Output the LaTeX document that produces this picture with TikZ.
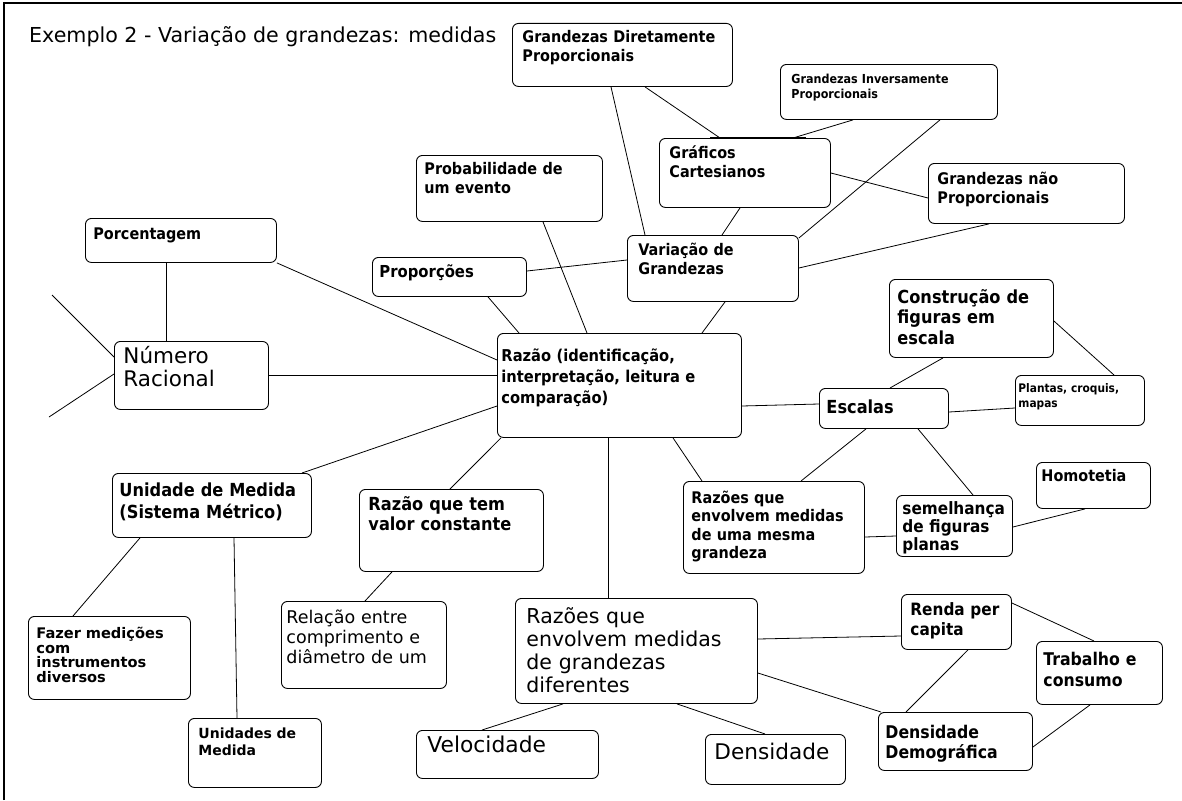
\documentclass[tikz,border=0pt]{standalone}
\usepackage{fontspec}
\setmainfont{DejaVu Sans Condensed}
\newfontfamily\widefont{DejaVu Sans}
\usepackage{tikz}
\usetikzlibrary{positioning}

\tikzset{
  box/.style={draw, line width=0.9pt, rounded corners=6pt, anchor=north west, align=left, inner ysep=0pt},
  bmain/.style={font=\fontsize{16}{19.5}\selectfont\bfseries},
  bbig/.style={font=\fontsize{18}{20.5}\selectfont\bfseries},
  bsmall/.style={font=\widefont\fontsize{14.6}{14.7}\selectfont\bfseries},
  btiny/.style={font=\fontsize{12.4}{15}\selectfont\bfseries},
  bmini/.style={font=\fontsize{11.8}{15}\selectfont\bfseries},
  rlarge/.style={font=\widefont\fontsize{21.5}{23}\selectfont},
  rmid/.style={font=\widefont\fontsize{17.5}{20}\selectfont},
  rbig/.style={font=\widefont\fontsize{20.5}{23}\selectfont},
  link/.style={line width=0.8pt},
}

\begin{document}
\begin{tikzpicture}[x=1pt,y=-1pt]
\useasboundingbox (0,0) rectangle (1182,800);

% Frame and title
\draw[line width=2.2pt] (4,800) -- (4,3) -- (1182,3);
\node[anchor=base west, inner sep=0pt, font=\widefont\fontsize{20.6}{22}\selectfont] (title) at (29,43) {Exemplo 2 - Variação de grandezas: medidas};

% Top boxes
\node[box, bmain, inner xsep=10pt, text width=200pt, text height=19pt, text depth=44pt] (gdp) at (512,23) {Grandezas Diretamente\\Proporcionais};
\node[box, btiny, inner xsep=11pt, text width=195pt, text height=19pt, text depth=36pt] (ginv) at (780,64) {Grandezas Inversamente\\Proporcionais};
\node[box, bmain, inner xsep=10pt, text width=151pt, text height=20pt, text depth=49pt] (graf) at (659,138) {Gráficos\\Cartesianos};
\node[box, bmain, inner xsep=9pt, text width=178pt, text height=21pt, text depth=39pt] (gnao) at (928,163) {Grandezas não\\Proporcionais};
\node[box, bmain, inner xsep=8pt, text width=170pt, text height=19pt, text depth=47pt] (prob) at (416,155) {Probabilidade de\\um evento};
\node[box, bmain, inner xsep=8pt, text width=175pt, text height=21pt, text depth=23pt] (porc) at (85,218) {Porcentagem};
\node[box, bmain, inner xsep=7pt, text width=140pt, text height=20pt, text depth=19pt, font=\fontsize{16.5}{19.5}\selectfont\bfseries] (prop) at (372,257) {Proporções};
\node[box, bmain, inner xsep=11pt, text width=149pt, text height=20pt, text depth=46pt] (var) at (627,235) {Variação de\\Grandezas};
% thick piece on the top edge of Graficos
\draw[line width=1.5pt] ([xshift=51pt,yshift=0.5pt]graf.north west) -- ([xshift=147pt,yshift=0.5pt]graf.north west);

% Middle boxes
\node[box, rlarge, inner xsep=9pt, text width=136pt, text height=22pt, text depth=46pt] (num) at (114,341) {Número\\Racional};
\node[box, bmain, inner xsep=4pt, text width=236pt, text height=28pt, text depth=76pt, font=\fontsize{16.3}{21}\selectfont\bfseries] (razao) at (497,333) {Razão (identificação,\\interpretação, leitura e\\comparação)};
\node[box, bbig, inner xsep=8pt, text width=148pt, text height=24pt, text depth=54pt] (cons) at (889,279) {Construção de\\figuras em\\escala};
\node[box, bbig, inner xsep=7pt, text width=115pt, text height=25pt, text depth=15pt] (esc) at (819,388) {Escalas};
\node[box, bmini, inner xsep=3pt, text width=123pt, text height=17pt, text depth=33pt] (plan) at (1015,375) {Plantas, croquis,\\mapas};
\node[box, bbig, inner xsep=7pt, text width=185pt, text height=23pt, text depth=41pt, font=\fontsize{18}{22}\selectfont\bfseries] (unid) at (112,473) {Unidade de Medida\\(Sistema Métrico)};
\node[box, bbig, inner xsep=9pt, text width=166pt, text height=21pt, text depth=61pt] (rconst) at (359,489) {Razão que tem\\valor constante};
\node[box, bmain, inner xsep=8pt, text width=165pt, text height=22pt, text depth=70pt, font=\fontsize{16}{18.5}\selectfont\bfseries] (rmesma) at (683,481) {Razões que\\envolvem medidas\\de uma mesma\\grandeza};
\node[box, bmain, inner xsep=6pt, text width=104pt, text height=19pt, text depth=42pt, font=\fontsize{17}{18}\selectfont\bfseries] (sem) at (896,495) {semelhança\\de figuras\\planas};
\node[box, bmain, inner xsep=5pt, text width=104pt, text height=19pt, text depth=27pt] (homo) at (1036,462) {Homotetia};

% Bottom boxes
\node[box, bsmall, inner xsep=8pt, text width=146pt, text height=22pt, text depth=61pt] (faz) at (28,616) {Fazer medições\\com\\instrumentos\\diversos};
\node[box, bsmall, inner xsep=10pt, text width=113pt, text height=20pt, text depth=49pt, font=\widefont\fontsize{14}{17}\selectfont\bfseries] (unids) at (188,718) {Unidades de\\Medida};
\node[box, rmid, inner xsep=5pt, text width=155pt, text height=22pt, text depth=65pt] (rel) at (281,601) {Relação entre\\comprimento e\\diâmetro de um};
\node[box, rbig, inner xsep=11pt, text width=220pt, text height=25pt, text depth=80pt] (rdif) at (515,598) {Razões que\\envolvem medidas\\de grandezas\\diferentes};
\node[box, rbig, inner xsep=11pt, text width=160pt, text height=22pt, text depth=26pt, font=\widefont\fontsize{21.8}{23}\selectfont] (vel) at (416,730) {Velocidade};
\node[box, rbig, inner xsep=9pt, text width=122pt, text height=25pt, text depth=25pt, font=\widefont\fontsize{21.6}{23}\selectfont] (dens) at (705,734) {Densidade};
\node[box, bmain, inner xsep=9pt, text width=92pt, text height=21pt, text depth=34pt, font=\fontsize{17}{20}\selectfont\bfseries] (renda) at (901,594) {Renda per\\capita};
\node[box, bmain, inner xsep=7pt, text width=112pt, text height=24pt, text depth=39pt, font=\fontsize{17.5}{21}\selectfont\bfseries] (trab) at (1036,641) {Trabalho e\\consumo};
\node[box, bmain, inner xsep=7pt, text width=140pt, text height=26pt, text depth=32pt, font=\fontsize{17.5}{20}\selectfont\bfseries] (ddem) at (878,712) {Densidade\\Demográfica};

% Free ends on the left
\coordinate (l1) at (52,295);
\coordinate (l2) at (49,417);

% Links around Numero Racional
\draw[link] (l1) -- ([yshift=-16pt]num.north west);
\draw[link] (l2) -- ([yshift=-33pt]num.north west);
\draw[link] ([xshift=81pt]porc.south west) -- ([xshift=52pt]num.north west);
\draw[link] (porc.south east) -- ([yshift=-27pt]razao.north west);
\draw[link] (num.east) -- (num.east -| razao.west);

% Links above Razao
\draw[link] ([xshift=116pt]prop.south west) -- ([xshift=22pt]razao.north west);
\draw[link] ([xshift=127pt]prob.south west) -- ([xshift=90pt]razao.north west);
\draw[link] ([yshift=-14pt]prop.north east) -- ([yshift=-25pt]var.north west);
\draw[link] ([xshift=99pt]gdp.south west) -- ([xshift=18pt]var.north west);
\draw[link] ([xshift=133pt]gdp.south west) -- ([xshift=61pt]graf.north west);
\draw[link] ([xshift=73pt]ginv.south west) -- ([xshift=134pt]graf.north west);
\draw[link] ([xshift=160pt]ginv.south west) -- ([yshift=-3pt]var.north east);
\draw[link] ([yshift=-35pt]graf.north east) -- ([yshift=-35pt]gnao.north west);
\draw[link] ([xshift=81pt]graf.south west) -- ([xshift=95pt]var.north west);
\draw[link] ([xshift=61pt]gnao.south west) -- ([yshift=-33pt]var.north east);
\draw[link] ([xshift=98pt]var.south west) -- ([xshift=205pt]razao.north west);

% Links on the right (Escalas)
\draw[link] ([yshift=-73pt]razao.north east) -- ([yshift=-16pt]esc.north west);
\draw[link] ([xshift=54pt]cons.south west) -- ([xshift=71pt]esc.north west);
\draw[link] ([yshift=-42pt]cons.north east) -- ([xshift=99pt]plan.north west);
\draw[link] ([yshift=-24pt]esc.north east) -- ([yshift=-33pt]plan.north west);
\draw[link] ([xshift=47pt]esc.south west) -- ([xshift=118pt]rmesma.north west);
\draw[link] ([xshift=99pt]esc.south west) -- ([xshift=77pt]sem.north west);
\draw[link] ([xshift=176pt]razao.south west) -- ([xshift=19pt]rmesma.north west);
\draw[link] ([yshift=-56pt]rmesma.north east) -- ([yshift=-41pt]sem.north west);
\draw[link] ([yshift=-32pt]sem.north east) -- ([xshift=49pt]homo.south west);

% Links below Razao
\draw[link] ([xshift=111pt]razao.south west) -- ([xshift=93pt]rdif.north west);
\draw[link] ([yshift=-73pt]razao.north west) -- ([xshift=190pt]unid.north west);
\draw[link] ([xshift=4pt]razao.south west) -- ([xshift=91pt]rconst.north west);
\draw[link] ([xshift=28pt]unid.south west) -- ([xshift=45pt]faz.north west);
\draw[link] ([xshift=122pt]unid.south west) -- ([xshift=49pt]unids.north west);
\draw[link] ([xshift=33pt]rconst.south west) -- ([xshift=84pt]rel.north west);

% Links of Razoes diferentes
\draw[link] ([xshift=48pt]rdif.south west) -- ([xshift=66pt]vel.north west);
\draw[link] ([xshift=162pt]rdif.south west) -- ([xshift=60pt]dens.north west);
\draw[link] ([yshift=-41pt]rdif.north east) -- ([yshift=-42pt]renda.north west);
\draw[link] ([yshift=-75pt]rdif.north east) -- ([xshift=3pt]ddem.north west);
\draw[link] ([yshift=-9pt]renda.north east) -- ([xshift=58pt]trab.north west);
\draw[link] ([xshift=67pt]renda.south west) -- ([xshift=28pt]ddem.north west);
\draw[link] ([xshift=54pt]trab.south west) -- ([yshift=-35pt]ddem.north east);
\end{tikzpicture}
\end{document}
